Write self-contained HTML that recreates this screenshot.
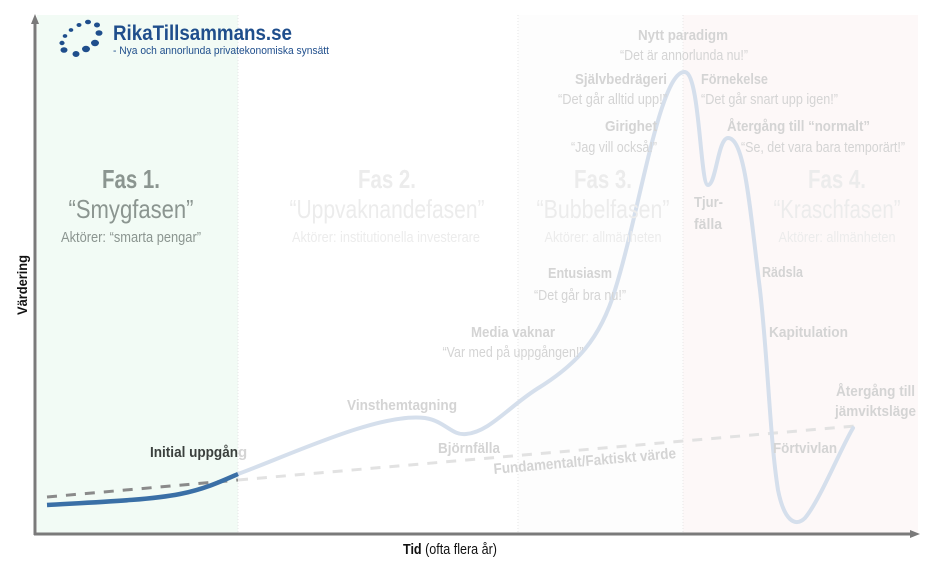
<!DOCTYPE html>
<html><head><meta charset="utf-8"><style>
html,body{margin:0;padding:0;background:#fff;}
svg{display:block;font-family:"Liberation Sans Narrow","Liberation Sans",sans-serif;}
</style></head><body>
<svg width="925" height="568" viewBox="0 0 925 568" xmlns="http://www.w3.org/2000/svg">
<rect x="37" y="15" width="201" height="519" fill="#f2fbf5"/>
<rect x="518" y="15" width="165" height="519" fill="#fdfdfd"/>
<rect x="683" y="15" width="235" height="519" fill="#fdf8f8"/>
<g stroke="#e6e6e6" stroke-dasharray="1,2" stroke-width="1">
<line x1="238" y1="15" x2="238" y2="534"/><line x1="518" y1="15" x2="518" y2="534"/><line x1="683" y1="15" x2="683" y2="534"/>
</g>
<line x1="35" y1="22" x2="35" y2="535" stroke="#7a7a7a" stroke-width="3"/>
<polygon points="35,14 31,24 39,24" fill="#7a7a7a"/>
<line x1="34" y1="534" x2="912" y2="534" stroke="#7a7a7a" stroke-width="3"/>
<polygon points="920,534 910,530 910,538" fill="#7a7a7a"/>
<path d="M47,497 L238,480" stroke="#8a8a8a" stroke-width="3" stroke-dasharray="10,9" fill="none"/>
<path d="M238,480 L855,426" stroke="#e2e2e2" stroke-width="3" stroke-dasharray="10,9" fill="none"/>
<path d="M238,474 C290,455 380,412 425,418 C445,421 452,436 466,434 C490,432 510,405 540,387 C575,365 600,340 615,290 C640,210 660,70 685,72 C700,74 700,185 708,185 C716,185 718,138 728,138 C745,138 750,210 760,290 C768,360 770,440 778,490 C784,520 795,528 805,518 C820,500 840,450 853,428" stroke="#d5dfec" stroke-width="4" fill="none" stroke-linecap="round"/>
<path d="M47,505 C100,502 150,500 180,494 C205,489 222,481 238,474" stroke="#3a6fa6" stroke-width="4.5" fill="none"/>
<g fill="#1f4e8c">
<ellipse cx="64" cy="50" rx="3.5" ry="2.8"/><ellipse cx="62" cy="43" rx="2.6" ry="2.2"/><ellipse cx="65" cy="36" rx="2.3" ry="1.9"/><ellipse cx="71" cy="30" rx="2.3" ry="1.9"/><ellipse cx="79" cy="25" rx="2.5" ry="2"/><ellipse cx="88" cy="22" rx="3" ry="2.3"/><ellipse cx="97" cy="25" rx="3" ry="2.5"/><ellipse cx="99" cy="33" rx="3.5" ry="2.8"/><ellipse cx="95" cy="43" rx="4" ry="3.2"/><ellipse cx="86" cy="49" rx="4" ry="3.2"/><ellipse cx="76" cy="54" rx="3.5" ry="3"/>
</g>
<text x="113" y="40" font-family="Liberation Sans" font-weight="bold" font-size="21" fill="#1f4e8c" textLength="179" lengthAdjust="spacingAndGlyphs">RikaTillsammans.se</text>
<text x="113" y="54" font-size="11" fill="#1f4e8c" textLength="216" lengthAdjust="spacingAndGlyphs">- Nya och annorlunda privatekonomiska synsätt</text>
<g text-anchor="middle">
<text x="131" y="188" font-size="26" font-weight="bold" fill="#8b9590" textLength="58" lengthAdjust="spacingAndGlyphs">Fas 1.</text>
<text x="131" y="218" font-size="26" fill="#8b9590" textLength="125" lengthAdjust="spacingAndGlyphs">“Smygfasen”</text>
<text x="131" y="242" font-size="15" fill="#8b9590" textLength="140" lengthAdjust="spacingAndGlyphs">Aktörer: “smarta pengar”</text>
<text x="387" y="188" font-size="26" font-weight="bold" fill="#ececec" textLength="58" lengthAdjust="spacingAndGlyphs">Fas 2.</text>
<text x="387" y="218" font-size="26" fill="#ececec" textLength="195" lengthAdjust="spacingAndGlyphs">“Uppvaknandefasen”</text>
<text x="386" y="242" font-size="15" fill="#ececec" textLength="188" lengthAdjust="spacingAndGlyphs">Aktörer: institutionella investerare</text>
<text x="603" y="188" font-size="26" font-weight="bold" fill="#ececec" textLength="58" lengthAdjust="spacingAndGlyphs">Fas 3.</text>
<text x="603" y="218" font-size="26" fill="#ececec" textLength="133" lengthAdjust="spacingAndGlyphs">“Bubbelfasen”</text>
<text x="603" y="242" font-size="15" fill="#ececec" textLength="117" lengthAdjust="spacingAndGlyphs">Aktörer: allmänheten</text>
<text x="837" y="188" font-size="26" font-weight="bold" fill="#ececec" textLength="58" lengthAdjust="spacingAndGlyphs">Fas 4.</text>
<text x="837" y="218" font-size="26" fill="#ececec" textLength="127" lengthAdjust="spacingAndGlyphs">“Kraschfasen”</text>
<text x="837" y="242" font-size="15" fill="#ececec" textLength="117" lengthAdjust="spacingAndGlyphs">Aktörer: allmänheten</text>
</g>
<g fill="#d4d4d4" font-size="15">
<text x="683" y="40" text-anchor="middle" font-weight="bold" textLength="90" lengthAdjust="spacingAndGlyphs">Nytt paradigm</text>
<text x="684" y="60" text-anchor="middle" textLength="128" lengthAdjust="spacingAndGlyphs">“Det är annorlunda nu!”</text>
<text x="667" y="84" text-anchor="end" font-weight="bold" textLength="92" lengthAdjust="spacingAndGlyphs">Självbedrägeri</text>
<text x="667" y="104" text-anchor="end" textLength="109" lengthAdjust="spacingAndGlyphs">“Det går alltid upp!”</text>
<text x="701" y="84" font-weight="bold" textLength="67" lengthAdjust="spacingAndGlyphs">Förnekelse</text>
<text x="701" y="104" textLength="137" lengthAdjust="spacingAndGlyphs">“Det går snart upp igen!”</text>
<text x="657" y="131" text-anchor="end" font-weight="bold" textLength="52" lengthAdjust="spacingAndGlyphs">Girighet</text>
<text x="657" y="152" text-anchor="end" textLength="86" lengthAdjust="spacingAndGlyphs">“Jag vill också!”</text>
<text x="727" y="131" font-weight="bold" textLength="143" lengthAdjust="spacingAndGlyphs">Återgång till “normalt”</text>
<text x="741" y="152" textLength="164" lengthAdjust="spacingAndGlyphs">“Se, det vara bara temporärt!”</text>
<text x="694" y="207" font-weight="bold" textLength="29" lengthAdjust="spacingAndGlyphs">Tjur-</text>
<text x="694" y="229" font-weight="bold" textLength="28" lengthAdjust="spacingAndGlyphs">fälla</text>
<text x="580" y="278" text-anchor="middle" font-weight="bold" textLength="64" lengthAdjust="spacingAndGlyphs">Entusiasm</text>
<text x="580" y="300" text-anchor="middle" textLength="92" lengthAdjust="spacingAndGlyphs">“Det går bra nu!”</text>
<text x="513" y="337" text-anchor="middle" font-weight="bold" textLength="84" lengthAdjust="spacingAndGlyphs">Media vaknar</text>
<text x="513" y="357" text-anchor="middle" textLength="141" lengthAdjust="spacingAndGlyphs">“Var med på uppgången!”</text>
<text x="347" y="410" font-weight="bold" textLength="110" lengthAdjust="spacingAndGlyphs">Vinsthemtagning</text>
<text x="438" y="453" font-weight="bold" textLength="62" lengthAdjust="spacingAndGlyphs">Björnfälla</text>
<text x="494" y="474" font-weight="bold" transform="rotate(-5 494 474)" textLength="183" lengthAdjust="spacingAndGlyphs">Fundamentalt/Faktiskt värde</text>
<text x="762" y="277" font-weight="bold" textLength="41" lengthAdjust="spacingAndGlyphs">Rädsla</text>
<text x="769" y="337" font-weight="bold" textLength="79" lengthAdjust="spacingAndGlyphs">Kapitulation</text>
<text x="836" y="396" font-weight="bold" textLength="79" lengthAdjust="spacingAndGlyphs">Återgång till</text>
<text x="835" y="416" font-weight="bold" textLength="81" lengthAdjust="spacingAndGlyphs">jämviktsläge</text>
<text x="773" y="453" font-weight="bold" textLength="64" lengthAdjust="spacingAndGlyphs">Förtvivlan</text>
<text x="238" y="457" font-weight="bold">g</text>
</g>
<text x="150" y="457" font-size="15" font-weight="bold" fill="#3b403d" textLength="88" lengthAdjust="spacingAndGlyphs">Initial uppgån</text>
<text transform="translate(27 285) rotate(-90)" text-anchor="middle" font-size="14" font-weight="bold" fill="#111" textLength="60" lengthAdjust="spacingAndGlyphs">Värdering</text>
<text x="403" y="554" font-size="15" fill="#111" textLength="94" lengthAdjust="spacingAndGlyphs"><tspan font-weight="bold">Tid</tspan> (ofta flera år)</text>
</svg>
</body></html>
